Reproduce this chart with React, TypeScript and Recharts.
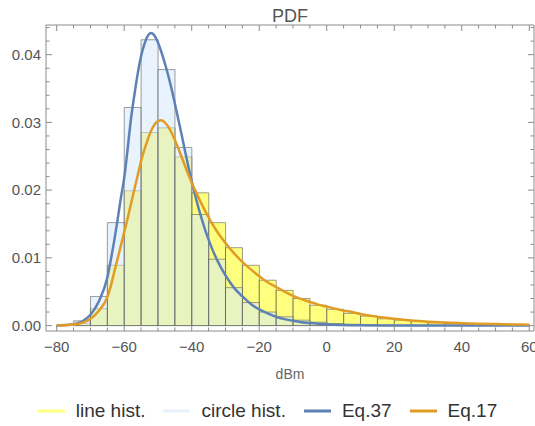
import React from 'react';
import { ComposedChart, Bar, Line, XAxis, YAxis, Legend, Label } from 'recharts';

// ---------- data ----------
const binCenters = [-72.5, -67.5, -62.5, -57.5, -52.5, -47.5, -42.5, -37.5, -32.5, -27.5, -22.5, -17.5, -12.5, -7.5, -2.5, 2.5, 7.5, 12.5, 17.5, 22.5, 27.5, 32.5, 37.5, 42.5, 47.5, 52.5, 57.5];
const lineHist = [0.0003, 0.0025, 0.0089, 0.0199, 0.0285, 0.0292, 0.0249, 0.0196, 0.0152, 0.0115, 0.0089, 0.0067, 0.0052, 0.0040, 0.0030, 0.0024, 0.0018, 0.0014, 0.0010, 0.0008, 0.0006, 0.0004, 0.0003, 0.0002, 0.00015, 0.0001, 0.0001];
const circleHist = [0.0007, 0.0043, 0.0152, 0.0322, 0.0422, 0.0378, 0.0263, 0.0164, 0.0098, 0.0056, 0.0034, 0.0020, 0.0013, 0.0008, 0.0005, 0.0003, 0.0002, 0.00012, 0.00008, 0.00005, 0.00003, 0.00002, 0, 0, 0, 0, 0];

const eq37X = [-80, -77.5, -75, -72.5, -70, -67.5, -65, -64, -63, -62, -61, -60, -59, -58, -57, -56, -55, -54, -53, -52, -51, -50, -49, -48, -47, -46, -45, -44, -43, -42, -41, -40, -39, -38, -37, -36, -35, -34, -32.5, -30, -27.5, -25, -22.5, -20, -17.5, -15, -12.5, -10, -7.5, -5, -2.5, 0, 5, 10, 20, 30, 45, 60];
const eq37Y = [0.00002, 0.00007, 0.0002, 0.0006, 0.0016, 0.0036, 0.0071, 0.0096, 0.0124, 0.0155, 0.0188, 0.0218, 0.026, 0.0305, 0.034, 0.0372, 0.0398, 0.0416, 0.0428, 0.0432, 0.0428, 0.0418, 0.0404, 0.0388, 0.037, 0.035, 0.0328, 0.0305, 0.0282, 0.0258, 0.0235, 0.0213, 0.0193, 0.0174, 0.0157, 0.0141, 0.0127, 0.0114, 0.0097, 0.0074, 0.0056, 0.0043, 0.0032, 0.0024, 0.0018, 0.0013, 0.00095, 0.0007, 0.0005, 0.00037, 0.00027, 0.0002, 0.0001, 0.00006, 0.00002, 0.00001, 0, 0];

const eq17X = [-80, -77.5, -75, -72.5, -70, -67.5, -65, -64, -63, -62, -61, -60, -59, -58, -57, -56, -55, -54, -53, -52, -51, -50, -49, -48, -47, -46, -45, -44, -43, -42, -41, -40, -39, -38, -37, -36, -35, -34, -32.5, -30, -27.5, -25, -22.5, -20, -17.5, -15, -12.5, -10, -7.5, -5, -2.5, 0, 2.5, 5, 7.5, 10, 12.5, 15, 20, 25, 30, 35, 40, 45, 50, 55, 60];
const eq17Y = [0.00002, 0.00006, 0.00015, 0.0004, 0.001, 0.0022, 0.0042, 0.0058, 0.0078, 0.0098, 0.0118, 0.0138, 0.0158, 0.018, 0.0201, 0.0222, 0.0243, 0.026, 0.0275, 0.0288, 0.0297, 0.0302, 0.0303, 0.03, 0.0294, 0.0285, 0.0274, 0.0262, 0.0249, 0.0236, 0.0223, 0.0211, 0.02, 0.0189, 0.0179, 0.0169, 0.016, 0.0151, 0.0139, 0.0122, 0.0107, 0.0094, 0.0083, 0.0073, 0.0064, 0.0057, 0.005, 0.0044, 0.0039, 0.0035, 0.0031, 0.0028, 0.0025, 0.0022, 0.002, 0.0017, 0.0015, 0.0013, 0.001, 0.00075, 0.00058, 0.00045, 0.00036, 0.00028, 0.00022, 0.00017, 0.00014];

const xMajorTicks = [-80, -60, -40, -20, 0, 20, 40, 60];
const xAllTicks = [-80, -75, -70, -65, -60, -55, -50, -45, -40, -35, -30, -25, -20, -15, -10, -5, 0, 5, 10, 15, 20, 25, 30, 35, 40, 45, 50, 55, 60];
const yMajorTicks = [0, 0.01, 0.02, 0.03, 0.04];
const yAllTicks = [0, 0.002, 0.004, 0.006, 0.008, 0.01, 0.012, 0.014, 0.016, 0.018, 0.02, 0.022, 0.024, 0.026, 0.028, 0.03, 0.032, 0.034, 0.036, 0.038, 0.04, 0.042, 0.044];

const legendLabels = ['line hist.', 'circle hist.', 'Eq.37', 'Eq.17'];
const legendColors = ['#ffff80', '#e6f1fc', '#5e81b5', '#e19c24'];

// ---------- derived tables ----------
const histData = binCenters.map((x, i) => ({ x, line: lineHist[i], circle: circleHist[i] }));
const eq37Data = eq37X.map((x, i) => ({ x, y: eq37Y[i] }));
const eq17Data = eq17X.map((x, i) => ({ x, y: eq17Y[i] }));

const X_DOMAIN: [number, number] = [-83.17, 61.4];
const Y_DOMAIN: [number, number] = [-0.0008, 0.04438];
const FONT = "'Liberation Sans', Arial, sans-serif";
const FRAME = '#8c8c8c';
const TICK_TEXT = '#555555';
const MAJOR_LEN = 6;
const MINOR_LEN = 3.5;

const fmtX = (v: number) => (v < 0 ? '\u2212' + Math.abs(v) : String(v));

const BottomTick = (props: any) => {
  const { x, y, payload } = props;
  const v = payload.value;
  const major = xMajorTicks.includes(v);
  return (
    <g>
      <line x1={x} y1={y} x2={x} y2={y - (major ? MAJOR_LEN : MINOR_LEN)} stroke={FRAME} strokeWidth={1} />
      {major && (
        <text x={x} y={y + 10} dy="0.71em" textAnchor="middle" fill={TICK_TEXT} fontSize={15} fontFamily={FONT}>
          {fmtX(v)}
        </text>
      )}
    </g>
  );
};

const TopTick = (props: any) => {
  const { x, y, payload } = props;
  const major = xMajorTicks.includes(payload.value);
  return <line x1={x} y1={y} x2={x} y2={y + (major ? MAJOR_LEN : MINOR_LEN)} stroke={FRAME} strokeWidth={1} />;
};

const LeftTick = (props: any) => {
  const { x, y, payload } = props;
  const v = payload.value;
  const major = yMajorTicks.includes(v);
  return (
    <g>
      <line x1={x} y1={y} x2={x + (major ? MAJOR_LEN : MINOR_LEN)} y2={y} stroke={FRAME} strokeWidth={1} />
      {major && (
        <text x={x - 5} y={y} dy="0.355em" textAnchor="end" fill={TICK_TEXT} fontSize={15} fontFamily={FONT}>
          {v.toFixed(2)}
        </text>
      )}
    </g>
  );
};

const RightTick = (props: any) => {
  const { x, y, payload } = props;
  const major = yMajorTicks.includes(payload.value);
  return <line x1={x} y1={y} x2={x - (major ? MAJOR_LEN : MINOR_LEN)} y2={y} stroke={FRAME} strokeWidth={1} />;
};

const renderLegend = () => (
  <div
    style={{
      display: 'flex',
      justifyContent: 'center',
      alignItems: 'center',
      fontFamily: FONT,
      fontSize: 19,
      lineHeight: '22px',
      color: '#333333',
    }}
  >
    {legendLabels.map((label, i) => (
      <div key={label} style={{ display: 'flex', alignItems: 'center', marginRight: i < legendLabels.length - 1 ? 18 : 0 }}>
        <svg width={27} height={6} style={{ display: 'block' }}>
          <line x1={0} y1={3} x2={27} y2={3} stroke={legendColors[i]} strokeWidth={3} />
        </svg>
        <span style={{ marginLeft: 11, whiteSpace: 'nowrap' }}>{label}</span>
      </div>
    ))}
  </div>
);

export default function App() {
  return (
    <div style={{ position: 'absolute', left: 0, top: 0, width: 535, height: 426, background: '#ffffff' }}>
      <ComposedChart
        width={535}
        height={426}
        data={histData}
        margin={{ top: 25, right: 1, bottom: 45, left: 0 }}
        barCategoryGap={0}
        barGap={0}
        style={{ fontFamily: FONT }}
      >
        <XAxis
          xAxisId="a_main"
          dataKey="x"
          type="number"
          domain={X_DOMAIN}
          allowDataOverflow
          ticks={xAllTicks}
          interval={0}
          tick={<BottomTick />}
          tickLine={false}
          tickSize={0}
          tickMargin={0}
          height={50}
          axisLine={{ stroke: FRAME, strokeWidth: 1 }}
        >
          <Label value="dBm" position="insideBottom" offset={2} fontSize={14} fill="#666666" fontFamily={FONT} />
        </XAxis>
        <XAxis
          xAxisId="a_top"
          dataKey="x"
          type="number"
          orientation="top"
          mirror
          domain={X_DOMAIN}
          allowDataOverflow
          ticks={xAllTicks}
          interval={0}
          tick={<TopTick />}
          tickLine={false}
          tickSize={0}
          tickMargin={0}
          height={10}
          axisLine={{ stroke: FRAME, strokeWidth: 1 }}
        >
          <Label value="PDF" position="top" offset={3} fontSize={18} fill="#555555" fontFamily={FONT} />
        </XAxis>
        <XAxis xAxisId="z_b1" dataKey="x" type="number" domain={X_DOMAIN} allowDataOverflow hide height={0} />
        <XAxis xAxisId="z_b2" dataKey="x" type="number" domain={X_DOMAIN} allowDataOverflow hide height={0} />
        <YAxis
          yAxisId="y"
          type="number"
          domain={Y_DOMAIN}
          allowDataOverflow
          ticks={yAllTicks}
          interval={0}
          tick={<LeftTick />}
          tickLine={false}
          tickSize={0}
          tickMargin={0}
          width={46}
          axisLine={{ stroke: FRAME, strokeWidth: 1 }}
        />
        <YAxis
          yAxisId="yr"
          type="number"
          orientation="right"
          mirror
          domain={Y_DOMAIN}
          allowDataOverflow
          ticks={yAllTicks}
          interval={0}
          tick={<RightTick />}
          tickLine={false}
          tickSize={0}
          tickMargin={0}
          width={10}
          axisLine={{ stroke: FRAME, strokeWidth: 1 }}
        />
        <Bar
          xAxisId="z_b1"
          yAxisId="y"
          dataKey="line"
          fill="#ffff00"
          fillOpacity={0.5}
          stroke="#505050"
          strokeOpacity={0.55}
          strokeWidth={1}
          isAnimationActive={false}
        />
        <Bar
          xAxisId="z_b2"
          yAxisId="y"
          dataKey="circle"
          fill="#d3e8fb"
          fillOpacity={0.52}
          stroke="#505050"
          strokeOpacity={0.55}
          strokeWidth={1}
          isAnimationActive={false}
        />
        <Line
          xAxisId="a_main"
          yAxisId="y"
          data={eq37Data}
          dataKey="y"
          type="monotone"
          stroke="#5e81b5"
          strokeWidth={2.5}
          dot={false}
          activeDot={false}
          isAnimationActive={false}
        />
        <Line
          xAxisId="a_main"
          yAxisId="y"
          data={eq17Data}
          dataKey="y"
          type="monotone"
          stroke="#e19c24"
          strokeWidth={2.5}
          dot={false}
          activeDot={false}
          isAnimationActive={false}
        />
        <Legend
          verticalAlign="middle"
          align="center"
          layout="horizontal"
          content={renderLegend}
          wrapperStyle={{ top: 400, left: 0, width: 535, height: 22 }}
        />
      </ComposedChart>
    </div>
  );
}
